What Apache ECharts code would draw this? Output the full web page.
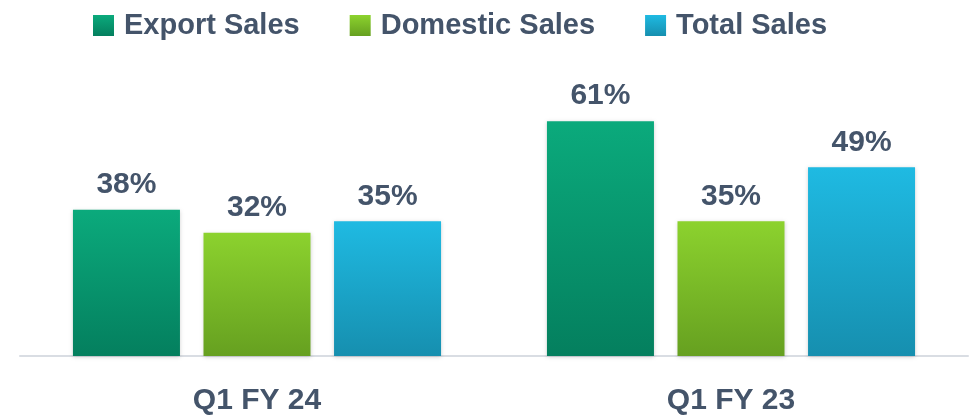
<!DOCTYPE html>
<html>
<head>
<meta charset="utf-8">
<script src="https://cdn.jsdelivr.net/npm/echarts@6/dist/echarts.min.js"></script>
<style>
  html, body { margin: 0; padding: 0; background: #fff; }
  #chart { width: 973px; height: 419px; }
</style>
</head>
<body>
<div id="chart"></div>
<script>
// chart data
const categories = ["Q1 FY 24", "Q1 FY 23"];
const exportSales = [38, 61];
const domesticSales = [32, 35];
const totalSales = [35, 49];

const textColor = "#44546A";
const font = "'Liberation Sans', Arial, sans-serif";

// vertical gradient for each series
const grad = (top, bottom) =>
  new echarts.graphic.LinearGradient(0, 0, 0, 1, [
    { offset: 0, color: top },
    { offset: 1, color: bottom }
  ]);

const makeSeries = (name, data, top, bottom) => ({
  name: name,
  type: "bar",
  data: data,
  barWidth: 107,
  barGap: "22%",
  itemStyle: {
    color: grad(top, bottom),
    shadowColor: "rgba(0,0,0,0.18)",
    shadowBlur: 4,
    shadowOffsetY: 1
  },
  label: {
    show: true,
    position: "top",
    distance: 10,
    formatter: "{c}%",
    color: textColor,
    fontFamily: font,
    fontWeight: "bold",
    fontSize: 30
  }
});

const chart = echarts.init(document.getElementById("chart"));
chart.setOption({
  animation: false,
  legend: {
    top: 6,
    left: 88,
    itemWidth: 21,
    itemHeight: 21,
    itemGap: 50,
    icon: "rect",
    textStyle: {
      color: textColor,
      fontFamily: font,
      fontWeight: "bold",
      fontSize: 29,
      padding: [0, 0, 0, 5]
    }
  },
  grid: {
    left: 20,
    right: 5,
    top: 86.5,
    bottom: 63
  },
  xAxis: {
    type: "category",
    data: categories,
    axisTick: { show: false },
    axisLine: { lineStyle: { color: "#D9DDE3", width: 2 } },
    axisLabel: {
      margin: 30,
      color: textColor,
      fontFamily: font,
      fontWeight: "bold",
      fontSize: 30
    }
  },
  yAxis: {
    type: "value",
    min: 0,
    max: 70,
    show: false,
    splitLine: { show: false }
  },
  series: [
    makeSeries("Export Sales", exportSales, "#0BAA7C", "#047F5E"),
    makeSeries("Domestic Sales", domesticSales, "#8CD22E", "#66A020"),
    makeSeries("Total Sales", totalSales, "#1FBAE2", "#168FAF")
  ]
});
</script>
</body>
</html>
